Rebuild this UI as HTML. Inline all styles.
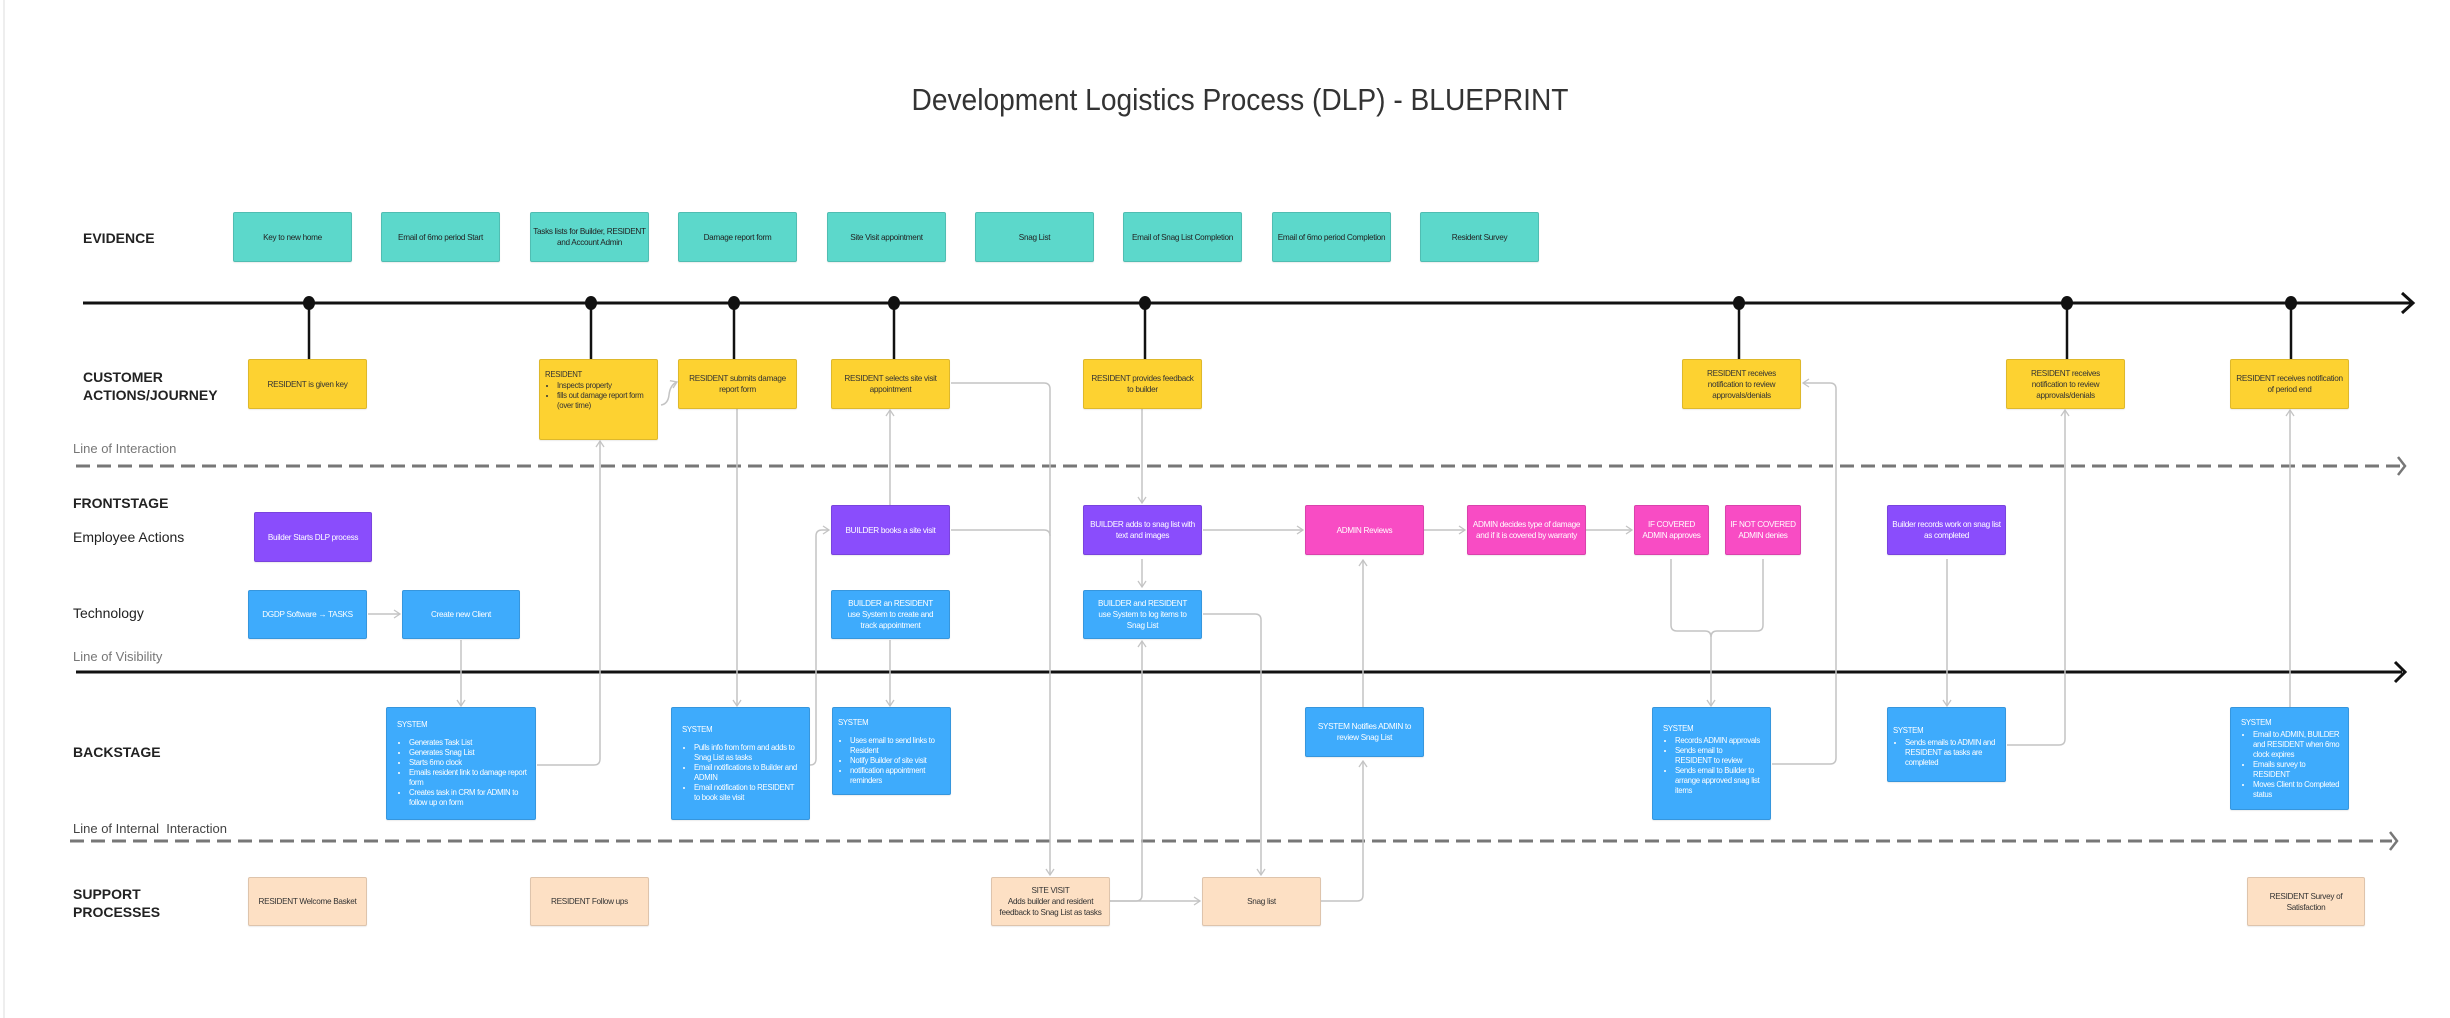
<!DOCTYPE html>
<html><head><meta charset="utf-8"><style>
html,body{margin:0;padding:0;background:#fff;}
body{width:2450px;height:1018px;position:relative;overflow:hidden;font-family:"Liberation Sans",sans-serif;}
.b{position:absolute;box-sizing:border-box;border:1px solid rgba(0,0,0,0.12);border-radius:2px;display:flex;align-items:center;justify-content:center;text-align:center;font-size:8.2px;line-height:11px;padding:0 4px;letter-spacing:-0.3px;box-shadow:0 1px 1px rgba(0,0,0,0.08);}
.t{background:#5cd8cb;color:#222;}
.y{background:#fdd231;color:#333;}
.p{background:#8a4dfc;color:#fff;}
.k{background:#f84cc4;color:#fff;}
.u{background:#3eabfc;color:#fff;}
.o{background:#fde0c4;color:#333;}
.s{align-items:flex-start;justify-content:flex-start;text-align:left;flex-direction:column;padding:12px 8px 0 10px;font-size:7.8px;line-height:10px;}
.s ul{margin:8px 0 0 0;padding-left:12px;}
.s li{margin:0;}
.lab{position:absolute;font-size:15px;color:#222;white-space:nowrap;}
.bold{font-weight:bold;font-size:14px;line-height:18px;}
.gray{color:#777;font-size:13px;}
</style></head><body>
<svg width="2450" height="1018" style="position:absolute;left:0;top:0">
<defs>
<marker id="a" markerWidth="10" markerHeight="10" refX="7" refY="5" orient="auto" markerUnits="userSpaceOnUse"><path d="M1,1 L7,5 L1,9" fill="none" stroke="#c4c4c4" stroke-width="1.3"/></marker>
</defs>
<line x1="4" y1="0" x2="4" y2="1018" stroke="#eee" stroke-width="2"/>
<text x="1240" y="110" font-family="Liberation Sans, sans-serif" font-size="31" fill="#333" text-anchor="middle" textLength="657" lengthAdjust="spacingAndGlyphs">Development Logistics Process (DLP) - BLUEPRINT</text>
<line x1="83" y1="303" x2="2412" y2="303" stroke="#111" stroke-width="3"/>
<path d="M2402,293 L2413,303 L2402,313" fill="none" stroke="#111" stroke-width="3"/>
<g stroke="#111" stroke-width="2.5">
<line x1="309" y1="303" x2="309" y2="359"/><line x1="591" y1="303" x2="591" y2="359"/><line x1="734" y1="303" x2="734" y2="359"/><line x1="894" y1="303" x2="894" y2="359"/><line x1="1145" y1="303" x2="1145" y2="359"/><line x1="1739" y1="303" x2="1739" y2="359"/><line x1="2067" y1="303" x2="2067" y2="359"/><line x1="2291" y1="303" x2="2291" y2="359"/>
</g>
<g fill="#111">
<ellipse cx="309" cy="303" rx="6" ry="7"/><ellipse cx="591" cy="303" rx="6" ry="7"/><ellipse cx="734" cy="303" rx="6" ry="7"/><ellipse cx="894" cy="303" rx="6" ry="7"/><ellipse cx="1145" cy="303" rx="6" ry="7"/><ellipse cx="1739" cy="303" rx="6" ry="7"/><ellipse cx="2067" cy="303" rx="6" ry="7"/><ellipse cx="2291" cy="303" rx="6" ry="7"/>
</g>
<line x1="76" y1="466" x2="2400" y2="466" stroke="#777" stroke-width="3" stroke-dasharray="14,7"/>
<path d="M2398,457 L2405,466 L2398,475" fill="none" stroke="#777" stroke-width="2.5"/>
<line x1="76" y1="672" x2="2402" y2="672" stroke="#111" stroke-width="3"/>
<path d="M2395,662 L2405,672 L2395,682" fill="none" stroke="#111" stroke-width="3"/>
<line x1="70" y1="841" x2="2392" y2="841" stroke="#777" stroke-width="3" stroke-dasharray="14,7"/>
<path d="M2390,832 L2397,841 L2390,850" fill="none" stroke="#777" stroke-width="2.5"/>
<g stroke="#c4c4c4" stroke-width="1.5" fill="none">
<path d="M368,614 L400,614" marker-end="url(#a)"/>
<path d="M461,640 L461,706" marker-end="url(#a)"/>
<path d="M537,765 L594,765 Q600,765 600,759 L600,441" marker-end="url(#a)"/>
<path d="M661,405 Q668,404 669,395 Q670,385 677,382" marker-end="url(#a)"/>
<path d="M737,409 L737,706" marker-end="url(#a)"/>
<path d="M810,765 Q816,765 816,759 L816,536 Q816,530 822,530 L829,530" marker-end="url(#a)"/>
<path d="M890,505 L890,410" marker-end="url(#a)"/>
<path d="M951,383 L1044,383 Q1050,383 1050,389 L1050,875" marker-end="url(#a)"/>
<path d="M951,530 L1044,530 Q1050,530 1050,536"/>
<path d="M890,640 L890,706" marker-end="url(#a)"/>
<path d="M1142,409 L1142,503" marker-end="url(#a)"/>
<path d="M1142,559 L1142,587" marker-end="url(#a)"/>
<path d="M1203,530 L1303,530" marker-end="url(#a)"/>
<path d="M1424,530 L1465,530" marker-end="url(#a)"/>
<path d="M1586,530 L1632,530" marker-end="url(#a)"/>
<path d="M1203,614 L1255,614 Q1261,614 1261,620 L1261,875" marker-end="url(#a)"/>
<path d="M1110,901 L1200,901" marker-end="url(#a)"/>
<path d="M1110,901 L1136,901 Q1142,901 1142,895 L1142,641" marker-end="url(#a)"/>
<path d="M1321,901 L1357,901 Q1363,901 1363,895 L1363,761" marker-end="url(#a)"/>
<path d="M1363,707 L1363,560" marker-end="url(#a)"/>
<path d="M1671,559 L1671,625 Q1671,631 1677,631 L1705,631 Q1711,631 1711,637 L1711,706" marker-end="url(#a)"/>
<path d="M1763,559 L1763,625 Q1763,631 1757,631 L1717,631 Q1711,631 1711,637"/>
<path d="M1772,764 L1830,764 Q1836,764 1836,758 L1836,389 Q1836,383 1830,383 L1803,383" marker-end="url(#a)"/>
<path d="M1947,559 L1947,706" marker-end="url(#a)"/>
<path d="M2007,745 L2059,745 Q2065,745 2065,739 L2065,410" marker-end="url(#a)"/>
<path d="M2290,707 L2290,410" marker-end="url(#a)"/>
</g>
</svg>

<div class="lab bold" style="left:83px;top:229px;">EVIDENCE</div>
<div class="lab bold" style="left:83px;top:368px;">CUSTOMER<br>ACTIONS/JOURNEY</div>
<div class="lab gray" style="left:73px;top:441px;">Line of Interaction</div>
<div class="lab bold" style="left:73px;top:494px;">FRONTSTAGE</div>
<div class="lab" style="left:73px;top:529px;font-size:14px;">Employee Actions</div>
<div class="lab" style="left:73px;top:605px;font-size:14px;">Technology</div>
<div class="lab gray" style="left:73px;top:649px;">Line of Visibility</div>
<div class="lab bold" style="left:73px;top:743px;">BACKSTAGE</div>
<div class="lab" style="left:73px;top:821px;font-size:13px;color:#444;">Line of Internal&nbsp; Interaction</div>
<div class="lab bold" style="left:73px;top:885px;">SUPPORT<br>PROCESSES</div>

<div class="b t" style="left:233px;top:212px;width:119px;height:50px;">Key to new home</div>
<div class="b t" style="left:381px;top:212px;width:119px;height:50px;">Email of 6mo period Start</div>
<div class="b t" style="left:530px;top:212px;width:119px;height:50px;padding:0 2px;">Tasks lists for Builder, RESIDENT and Account Admin</div>
<div class="b t" style="left:678px;top:212px;width:119px;height:50px;">Damage report form</div>
<div class="b t" style="left:827px;top:212px;width:119px;height:50px;">Site Visit appointment</div>
<div class="b t" style="left:975px;top:212px;width:119px;height:50px;">Snag List</div>
<div class="b t" style="left:1123px;top:212px;width:119px;height:50px;padding:0 1px;white-space:nowrap;">Email of Snag List Completion</div>
<div class="b t" style="left:1272px;top:212px;width:119px;height:50px;">Email of 6mo period Completion</div>
<div class="b t" style="left:1420px;top:212px;width:119px;height:50px;">Resident Survey</div>

<div class="b y" style="left:248px;top:359px;width:119px;height:50px;">RESIDENT is given key</div>
<div class="b y s" style="left:539px;top:359px;width:119px;height:81px;padding:10px 5px 0 5px;line-height:10px;">RESIDENT<ul style="margin:1px 0 0 0;"><li>Inspects property</li><li>fills out damage report form (over time)</li></ul></div>
<div class="b y" style="left:678px;top:359px;width:119px;height:50px;">RESIDENT submits damage report form</div>
<div class="b y" style="left:831px;top:359px;width:119px;height:50px;">RESIDENT selects site visit appointment</div>
<div class="b y" style="left:1083px;top:359px;width:119px;height:50px;">RESIDENT provides feedback to builder</div>
<div class="b y" style="left:1682px;top:359px;width:119px;height:50px;padding:0 12px;">RESIDENT receives notification to review approvals/denials</div>
<div class="b y" style="left:2006px;top:359px;width:119px;height:50px;padding:0 12px;">RESIDENT receives notification to review approvals/denials</div>
<div class="b y" style="left:2230px;top:359px;width:119px;height:50px;">RESIDENT receives notification of period end</div>

<div class="b p" style="left:254px;top:512px;width:118px;height:50px;">Builder Starts DLP process</div>
<div class="b p" style="left:831px;top:505px;width:119px;height:50px;">BUILDER books a site visit</div>
<div class="b p" style="left:1083px;top:505px;width:119px;height:50px;">BUILDER adds to snag list with text and images</div>
<div class="b k" style="left:1305px;top:505px;width:119px;height:50px;">ADMIN Reviews</div>
<div class="b k" style="left:1467px;top:505px;width:119px;height:50px;">ADMIN decides type of damage and if it is covered by warranty</div>
<div class="b k" style="left:1634px;top:505px;width:75px;height:50px;padding:0 1px;">IF COVERED ADMIN approves</div>
<div class="b k" style="left:1725px;top:505px;width:76px;height:50px;padding:0 1px;">IF&nbsp;NOT&nbsp;COVERED ADMIN denies</div>
<div class="b p" style="left:1887px;top:505px;width:119px;height:50px;">Builder records work on snag list as completed</div>

<div class="b u" style="left:248px;top:590px;width:119px;height:49px;">DGDP Software → TASKS</div>
<div class="b u" style="left:402px;top:590px;width:118px;height:49px;">Create new Client</div>
<div class="b u" style="left:831px;top:590px;width:119px;height:49px;padding:0 10px;">BUILDER an RESIDENT use System to create and track appointment</div>
<div class="b u" style="left:1083px;top:590px;width:119px;height:49px;padding:0 10px;">BUILDER and RESIDENT use System to log items to Snag List</div>

<div class="b u s" style="left:386px;top:707px;width:150px;height:113px;">SYSTEM<ul><li>Generates Task List</li><li>Generates Snag List</li><li>Starts 6mo clock</li><li>Emails resident link to damage report form</li><li>Creates task in CRM for ADMIN to follow up on form</li></ul></div>
<div class="b u s" style="left:671px;top:707px;width:139px;height:113px;padding-top:17px;">SYSTEM<ul><li>Pulls info from form and adds to Snag List as tasks</li><li>Email notifications to Builder and ADMIN</li><li>Email notification to RESIDENT to book site visit</li></ul></div>
<div class="b u s" style="left:832px;top:707px;width:119px;height:88px;padding:10px 5px 0 5px;">SYSTEM<ul><li>Uses email to send links to Resident</li><li>Notify Builder of site visit</li><li>notification appointment reminders</li></ul></div>
<div class="b u" style="left:1305px;top:707px;width:119px;height:50px;padding:0 8px;">SYSTEM Notifies ADMIN to review Snag List</div>
<div class="b u s" style="left:1652px;top:707px;width:119px;height:113px;padding:16px 10px 0 10px;">SYSTEM<ul style="margin-top:2px;"><li>Records ADMIN approvals</li><li>Sends email to RESIDENT to review</li><li>Sends email to Builder to arrange approved snag list items</li></ul></div>
<div class="b u s" style="left:1887px;top:707px;width:119px;height:75px;padding:18px 5px 0 5px;">SYSTEM<ul style="margin-top:2px;"><li>Sends emails to ADMIN and RESIDENT as tasks are completed</li></ul></div>
<div class="b u s" style="left:2230px;top:707px;width:119px;height:103px;padding:10px 4px 0 10px;">SYSTEM<ul style="margin-top:2px;"><li>Email to ADMIN, BUILDER and RESIDENT when 6mo clock expires</li><li>Emails survey to RESIDENT</li><li>Moves Client to Completed status</li></ul></div>

<div class="b o" style="left:248px;top:877px;width:119px;height:49px;white-space:nowrap;padding:0 1px;">RESIDENT Welcome Basket</div>
<div class="b o" style="left:530px;top:877px;width:119px;height:49px;">RESIDENT Follow ups</div>
<div class="b o" style="left:991px;top:877px;width:119px;height:49px;padding:0 1px;">SITE VISIT<br>Adds builder and resident feedback to Snag List as tasks</div>
<div class="b o" style="left:1202px;top:877px;width:119px;height:49px;">Snag list</div>
<div class="b o" style="left:2247px;top:877px;width:118px;height:49px;padding:0 14px;">RESIDENT Survey of Satisfaction</div>
</body></html>
